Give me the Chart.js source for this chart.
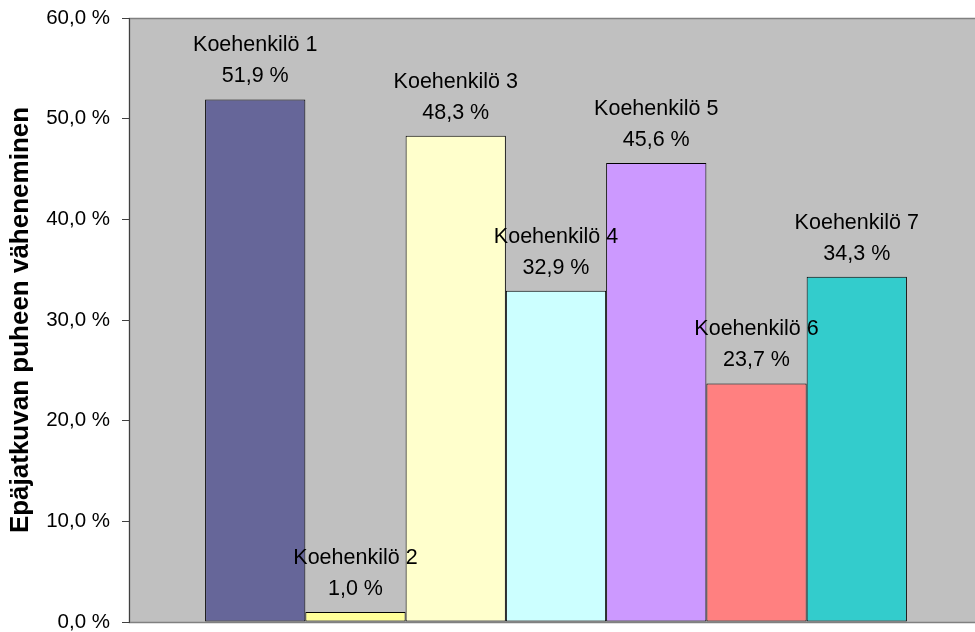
<!DOCTYPE html>
<html>
<head>
<meta charset="utf-8">
<script src="https://cdn.jsdelivr.net/npm/chart.js@4/dist/chart.umd.min.js"></script>
<style>
  html, body { margin: 0; padding: 0; background: #fff; overflow: hidden; }
  #wrap { width: 975px; height: 632px; overflow: hidden; }
</style>
</head>
<body>
<div id="wrap"><canvas id="chart" width="983" height="632"></canvas></div>
<script>
// Data
const subjects = ['Koehenkilö 1', 'Koehenkilö 2', 'Koehenkilö 3', 'Koehenkilö 4', 'Koehenkilö 5', 'Koehenkilö 6', 'Koehenkilö 7'];
const reductions = [51.9, 1.0, 48.3, 32.9, 45.6, 23.7, 34.3];
const barColors = ['#666699', '#FFFF99', '#FFFFCC', '#CCFFFF', '#CC99FF', '#FF8080', '#33CCCC'];
const yTicks = [0, 10, 20, 30, 40, 50, 60];
const axisTitle = 'Epäjatkuvan puheen väheneminen';

const FONT = '"Liberation Sans", Arial, sans-serif';
const fmt = v => v.toFixed(1).replace('.', ',') + ' %';

// grey plot area with frame
const plotBg = {
    id: 'plotBg',
    beforeDraw(chart) {
        const { ctx, chartArea: a } = chart;
        ctx.save();
        ctx.fillStyle = '#C0C0C0';
        ctx.fillRect(a.left, a.top, a.right - a.left, a.bottom - a.top);
        ctx.strokeStyle = '#808080';
        ctx.lineWidth = 1.5;
        ctx.strokeRect(a.left + 0.5, a.top + 0.5, a.right - a.left, a.bottom - a.top);
        ctx.restore();
    }
};

// two-line labels above each bar
const barLabels = {
    id: 'barLabels',
    afterDatasetsDraw(chart) {
        const ctx = chart.ctx;
        ctx.save();
        ctx.font = '21.5px ' + FONT;
        ctx.fillStyle = '#000';
        ctx.textAlign = 'center';
        ctx.textBaseline = 'middle';
        chart.data.datasets.forEach((ds, i) => {
            const bar = chart.getDatasetMeta(i).data[0];
            ctx.fillText(ds.label, bar.x, bar.y - 54);
            ctx.fillText(fmt(ds.data[0]), bar.x, bar.y - 23);
        });
        ctx.restore();
    }
};

const datasets = subjects.map((name, i) => ({
    label: name,
    data: [reductions[i]],
    backgroundColor: barColors[i],
    borderColor: '#000',
    borderWidth: 1,
    borderSkipped: false,
    categoryPercentage: 701 / 853,
    barPercentage: 1
}));

new Chart(document.getElementById('chart'), {
    type: 'bar',
    data: { labels: [''], datasets },
    options: {
        responsive: false,
        animation: false,
        layout: { padding: { top: 18, bottom: 10, right: 0, left: 0 } },
        plugins: { legend: { display: false }, tooltip: { enabled: false } },
        scales: {
            x: { display: false },
            y: {
                min: 0,
                max: 60,
                afterBuildTicks: s => { s.ticks = yTicks.map(v => ({ value: v })); },
                afterFit: s => {
                    s.width = 129;
                    // don't let the tick labels push the plot area in
                    s.paddingTop = 0;
                    s.paddingBottom = 0;
                },
                ticks: {
                    color: '#000',
                    font: { family: FONT, size: 20.5, lineHeight: 1 },
                    padding: 12,
                    callback: v => fmt(v)
                },
                grid: { drawOnChartArea: false, tickLength: 7, color: '#404040' },
                border: { color: '#404040' },
                title: {
                    display: true,
                    text: axisTitle,
                    color: '#000',
                    font: { family: FONT, size: 26, weight: 'bold', lineHeight: 1 },
                    padding: { top: 8, bottom: 0 }
                }
            }
        }
    },
    plugins: [plotBg, barLabels]
});
</script>
</body>
</html>
